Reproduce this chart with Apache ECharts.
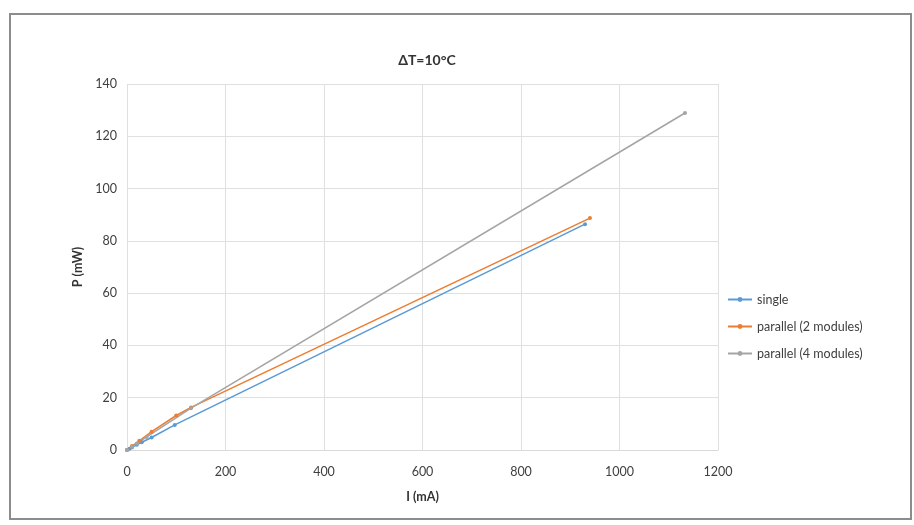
<!DOCTYPE html>
<html>
<head>
<meta charset="utf-8">
<script src="https://cdn.jsdelivr.net/npm/echarts@6/dist/echarts.min.js"></script>
<style>
html,body{margin:0;padding:0;background:#fff;}
#c{width:914px;height:525px;}
</style>
</head>
<body>
<div id="c"></div>
<script>
const titleText = 'ΔT=10°C';
const xName = 'I (mA)';
const yName = 'P (mW)';
const seriesNames = ['single', 'parallel (2 modules)', 'parallel (4 modules)'];
const singleData = [[0,0],[5,0.5],[10,1],[20,2],[30,3],[50,4.8],[97,9.6],[930,86.4]];
const parallel2Data = [[0,0],[10,1.5],[25,3.5],[50,7],[100,13.2],[130,16.3],[940,88.7]];
const parallel4Data = [[0,0],[10,1.2],[20,2.5],[40,5],[130,16],[1133,128.9]];
const colors = ['#5B9BD5','#ED7D31','#A5A5A5'];
const FONT = 'Lato';

const chart = echarts.init(document.getElementById('c'));
function mk(name, data, color){
  return {
    name: name, type: 'line', data: data,
    symbol: 'circle', symbolSize: 4,
    lineStyle: {color: color, width: 1.6},
    itemStyle: {color: color},
    emphasis: {disabled: true}
  };
}
chart.setOption({
  animation: false,
  textStyle: {fontFamily: FONT},
  color: colors,
  graphic: [{
    type: 'rect', shape: {x: 10, y: 14, width: 901, height: 505},
    style: {fill: 'none', stroke: '#8c8c8c', lineWidth: 2}, silent: true
  }],
  title: {
    text: titleText, left: 422, top: 48, textAlign: 'center',
    textStyle: {fontFamily: FONT, fontSize: 14, fontWeight: 'bold', color: '#333'}
  },
  legend: {
    orient: 'vertical', left: 722, top: 288, itemGap: 14,
    itemWidth: 24, itemHeight: 6,
    textStyle: {fontFamily: FONT, fontSize: 12.5, color: '#404040'},
    data: seriesNames
  },
  grid: {left: 127, right: 196, top: 84, bottom: 75},
  xAxis: {
    type: 'value', min: 0, max: 1200, interval: 200,
    name: xName, nameLocation: 'middle', nameGap: 40,
    nameTextStyle: {fontFamily: FONT, fontSize: 12.5, fontWeight: 'bold', color: '#333'},
    axisLine: {show: true, lineStyle: {color: '#d9d9d9'}},
    axisTick: {show: false},
    axisLabel: {fontFamily: FONT, fontSize: 12.5, color: '#404040', margin: 15,
      formatter: v => String(v)},
    splitLine: {show: true, lineStyle: {color: '#e0e0e0'}}
  },
  yAxis: {
    type: 'value', min: 0, max: 140, interval: 20,
    name: yName, nameLocation: 'middle', nameGap: 26, nameRotate: 90,
    nameTextStyle: {fontFamily: FONT, fontSize: 12.5, fontWeight: 'bold', color: '#333'},
    axisLine: {show: false},
    axisTick: {show: false},
    axisLabel: {fontFamily: FONT, fontSize: 12.5, color: '#404040', margin: 10,
      formatter: v => String(v)},
    splitLine: {show: true, lineStyle: {color: '#e0e0e0'}}
  },
  series: [
    mk(seriesNames[0], singleData, colors[0]),
    mk(seriesNames[1], parallel2Data, colors[1]),
    mk(seriesNames[2], parallel4Data, colors[2])
  ]
});
</script>
</body>
</html>
